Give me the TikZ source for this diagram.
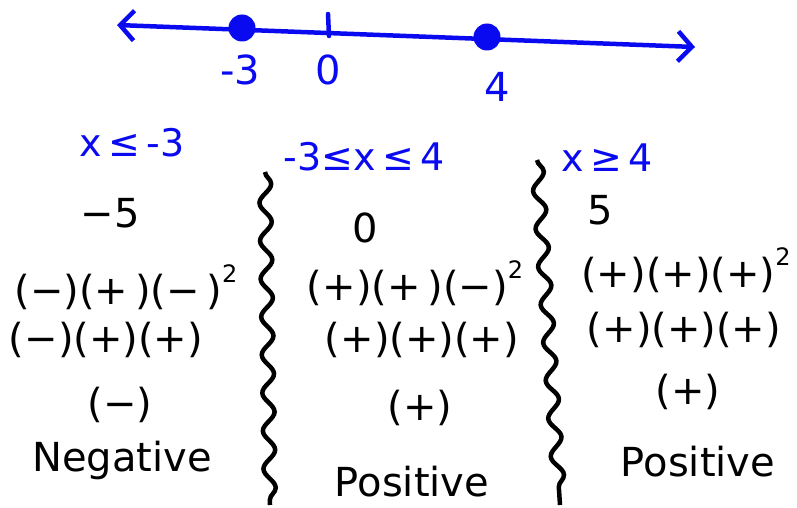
\documentclass[tikz,border=0pt]{standalone}
\usepackage{fontspec}
\setmainfont{DejaVu Sans}
\usetikzlibrary{arrows.meta,decorations.pathmorphing}
\definecolor{pen}{RGB}{10,10,240}
\tikzset{
  ink/.style={font=\fontsize{40}{42}\selectfont, inner sep=0pt, text=black},
  head/.style={font=\fontsize{38}{40}\selectfont, inner sep=0pt, text=pen},
  nlabel/.style={font=\fontsize{40}{42}\selectfont, inner sep=0pt, text=pen},
  dotp/.style={circle, fill=pen, minimum size=27pt, inner sep=0pt},
  wave/.style={line width=4.5pt, decorate, decoration={snake, segment length=38pt, amplitude=6pt}},
}
\newcommand{\sq}{\raisebox{0.55em}{\fontsize{24}{26}\selectfont 2}}
\begin{document}
\begin{tikzpicture}[x=1pt,y=-1pt]
\useasboundingbox (0,0) rectangle (797,508);
% number line
\coordinate (L) at (117,25);
\coordinate (R) at (695,47);
\draw[pen, line width=4.5pt, {Straight Barb[length=14pt,width=30pt]}-{Straight Barb[length=14pt,width=30pt]}] (L) -- (R);
\node[dotp] (dm3) at (242,28) {};
\node[dotp] (d4) at (487,37) {};
\coordinate (t0a) at (328,14);
\coordinate (t0b) at (329,36);
\draw[pen, line width=4.5pt, line cap=round] (t0a) -- (t0b);
\node[nlabel] (lm3) at (240,70) {-3};
\node[nlabel] (l0) at (328,70) {0};
\node[nlabel] (l4) at (497,87) {4};
% headers
\node[head] (h1) at (132,143) {x\,≤\,-3};
\node[head] (h2) at (364,157) {-3≤x\,≤\,4};
\node[head] (h3) at (607,158) {x\,≥\,4};
% dividers
\coordinate (w1a) at (265,172);
\coordinate (w1b) at (270,505);
\coordinate (w2a) at (537,160);
\coordinate (w2b) at (560,505);
\draw[wave] (w1a) -- (w1b);
\draw[wave] (w2a) -- (w2b);
% column 1
\node[ink] (a1) at (110,213) {−5};
\node[ink] (a2) at (126,287) {(−)(+\,)(−\,)\sq};
\node[ink] (a3) at (106,340) {(−)(+)(+)};
\node[ink] (a4) at (120,405) {(−)};
\node[ink] (a5) at (122,460) {Negative};
% column 2
\node[ink] (b1) at (365,228) {0};
\node[ink] (b2) at (415,283) {(+)(+\,)(−)\sq};
\node[ink] (b3) at (422,340) {(+)(+)(+)};
\node[ink] (b4) at (420,408) {(+)};
\node[ink] (b5) at (412,482) {Positive};
% column 3
\node[ink] (c1) at (600,210) {5};
\node[ink] (c2) at (686,270) {(+)(+)(+)\sq};
\node[ink] (c3) at (684,330) {(+)(+)(+)};
\node[ink] (c4) at (688,392) {(+)};
\node[ink] (c5) at (698,462) {Positive};
\end{tikzpicture}
\end{document}
